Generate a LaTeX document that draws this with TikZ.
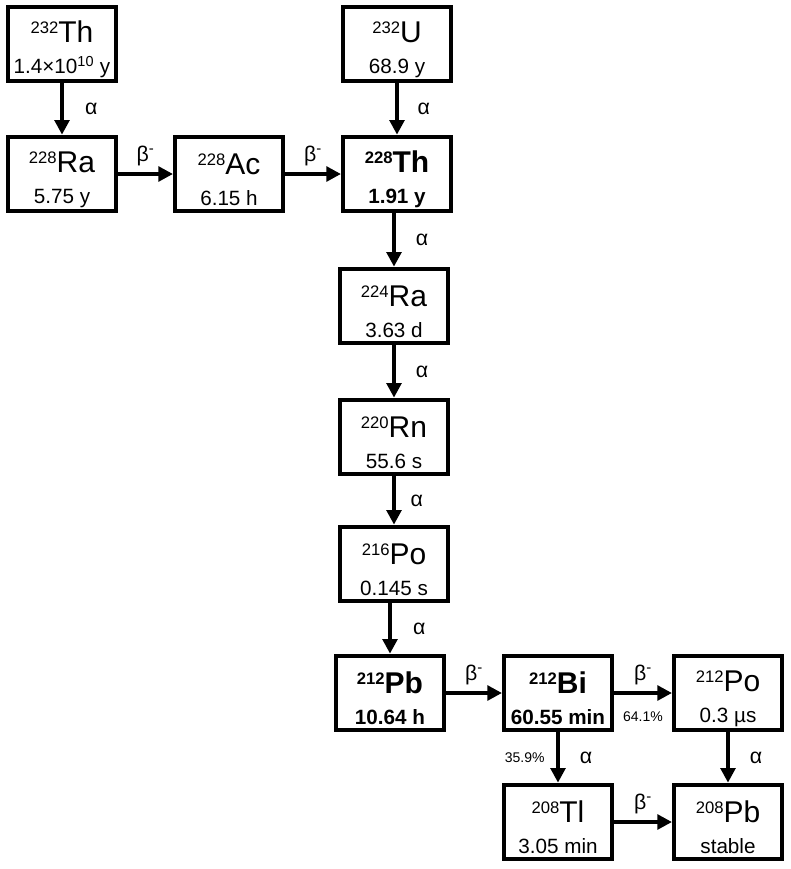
\documentclass[tikz,border=0pt]{standalone}
\usepackage{fontspec}
\setmainfont{Liberation Sans}
\usetikzlibrary{arrows.meta}

\begin{document}
\begin{tikzpicture}[x=0.75pt,y=-0.75pt]
	\tikzset{
		nucbox/.style={draw, line width=3pt, minimum width=81pt, minimum height=56pt, inner sep=0pt, align=center, font=\fontsize{15.5}{23.6}\selectfont},
		keybox/.style={nucbox, font=\fontsize{15.5}{23.6}\selectfont\bfseries},
		decay/.style={line width=3pt, -{Triangle[length=11pt,width=11pt]}},
		lbl/.style={font=\fontsize{16}{16}\selectfont, inner sep=0pt},
		pct/.style={font=\fontsize{10.5}{10.5}\selectfont, inner sep=0pt}
	}
	\newcommand{\nuc}[3]{{\fontsize{22.5}{23.6}\selectfont\rule{0pt}{24pt}\raisebox{6.8pt}{\fontsize{12.5}{12}\selectfont #1}#2}\\#3}
	\useasboundingbox (0,0) rectangle (791,869);
	% nuclides
	\foreach \nm/\x/\y/\ms/\el/\hl in {th232/62/44/232/Th/1.4×10\textsuperscript{10} y, ra228/62/174/228/Ra/5.75 y, ac228/229/174/228/Ac/6.15 h, u232/397/44/232/U/68.9 y, ra224/394/306/224/Ra/3.63 d, rn220/394/437/220/Rn/55.6 s, po216/394/564/216/Po/0.145 s, po212/728/693/212/Po/0.3 µs, tl208/558/822/208/Tl/3.05 min, pb208/728/822/208/Pb/stable} {
			\node[nucbox] (\nm) at (\x,\y) {\nuc{\ms}{\el}{\hl}};
		}
	\foreach \nm/\x/\y/\ms/\el/\hl in {th228/397/174/228/Th/1.91 y, pb212/390/693/212/Pb/10.64 h, bi212/558/693/212/Bi/60.55 min} {
			\node[keybox] (\nm) at (\x,\y) {\nuc{\ms}{\el}{\hl}};
		}
	% alpha decays
	\foreach \a/\b/\dx in {th232/ra228/22, u232/th228/20, th228/ra224/21, ra224/rn220/21, rn220/po216/17, po216/pb212/22, po212/pb208/21} {
			\draw[decay] (\a.south -| \b.north) -- (\b.north) node[lbl, midway, xshift=\dx pt] {α};
		}
	% beta decays
	\foreach \a/\b in {ra228/ac228, ac228/th228, pb212/bi212, tl208/pb208} {
			\draw[decay] (\a) -- (\b) node[lbl, midway, yshift=13.5pt] {β\textsuperscript{-}};
		}
	% branching of 212Bi
	\draw[decay] (bi212) -- (po212) node[lbl, midway, yshift=13.5pt] {β\textsuperscript{-}} node[pct, midway, yshift=-18pt] {64.1\%};
	\draw[decay] (bi212) -- (tl208) node[lbl, midway, xshift=21pt] {α} node[pct, midway, xshift=-25pt] {35.9\%};
\end{tikzpicture}
\end{document}
